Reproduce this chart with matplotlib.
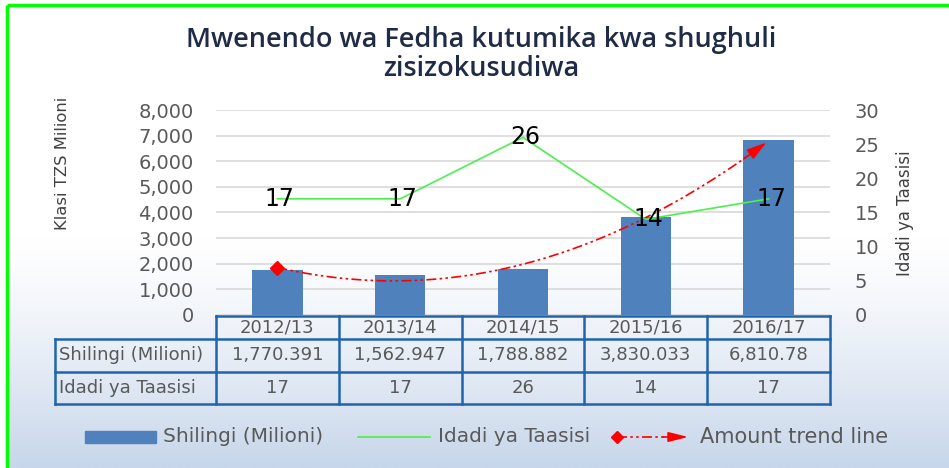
import numpy as np
import matplotlib
matplotlib.use("Agg")
import matplotlib.pyplot as plt
from matplotlib.patches import Rectangle
from matplotlib.lines import Line2D

plt.rcParams['font.family'] = ['DejaVu Sans']

# data
years = ["2012/13", "2013/14", "2014/15", "2015/16", "2016/17"]
shilingi = [1770.391, 1562.947, 1788.882, 3830.033, 6810.78]
taasisi = [17, 17, 26, 14, 17]
row_names = ["Shilingi (Milioni)", "Idadi ya Taasisi"]
left_ticks = [0, 1000, 2000, 3000, 4000, 5000, 6000, 7000, 8000]
right_ticks = [0, 5, 10, 15, 20, 25, 30]

W, H = 949, 468
fig = plt.figure(figsize=(W / 100, H / 100), dpi=100)
fig.patch.set_facecolor("white")

def fx(px):
    return px / W

def fy(py):
    return 1 - py / H

# background gradient
bg = fig.add_axes([fx(7), 0, 1 - fx(7), fy(5)], zorder=-10)
grad = np.linspace(0, 1, 256)
grad = np.clip((grad - 0.5) / 0.5, 0, 1) ** 1.3
top = np.array([1.0, 1.0, 1.0])
bot = np.array([0xc7, 0xd6, 0xea]) / 255
img = top[None, :] * (1 - grad[:, None]) + bot[None, :] * grad[:, None]
bg.imshow(img[:, None, :], aspect="auto", extent=[0, 1, 0, 1], origin="upper")
bg.axis("off")

# green frame (left and top)
fig.add_artist(Line2D([fx(7), fx(7)], [0, fy(5)], color="#00ff00", lw=2.5,
                      solid_capstyle="butt"))
fig.add_artist(Line2D([fx(7), 1], [fy(5), fy(5)], color="#00ff00", lw=2.5,
                      solid_capstyle="butt"))

x0, x1 = 216, 830
yb, yt = 315, 110
ax = fig.add_axes([fx(x0), fy(yb), fx(x1) - fx(x0), fy(yt) - fy(yb)])
ax.patch.set_alpha(0)
x = np.arange(len(years))
ax.bar(x, shilingi, width=0.41, color="#4f81bd", zorder=2)
ax.set_xlim(-0.5, len(years) - 0.5)
ax.set_ylim(0, 8000)
ax.set_yticks(left_ticks)
ax.set_yticklabels([f"{t:,}" for t in left_ticks])
ax.yaxis.grid(True, color="#d9d9d9", lw=1.2)
ax.set_axisbelow(True)
ax.set_xticks([])
for s in ax.spines.values():
    s.set_visible(False)
ax.tick_params(axis="y", length=0, labelsize=14, labelcolor="#595959", pad=16)

# polynomial trend line of amounts
coef = np.polyfit(x, shilingi, 2)
xs = np.linspace(0, len(years) - 1, 200)
ys = np.polyval(coef, xs)
ax.plot(xs[:-8], ys[:-8], color="red", lw=1.2, dashes=[6, 2, 1.5, 2, 1.5, 2], zorder=4)
ax.plot(xs[0], ys[0], marker="D", color="red", ms=7, zorder=5)
ax.annotate("", xy=(xs[-1], ys[-1]), xytext=(xs[-12], ys[-12]),
            arrowprops=dict(arrowstyle="-|>,head_length=1.2,head_width=0.35",
                            color="red", lw=1.2), zorder=5)

ax2 = ax.twinx()
ax2.set_ylim(0, 30)
ax2.set_yticks(right_ticks)
for s in ax2.spines.values():
    s.set_visible(False)
ax2.tick_params(axis="y", length=0, labelsize=14, labelcolor="#595959", pad=18)
ax2.plot(x, taasisi, color="#4cf04c", lw=1.2, zorder=3)
for xi, v in zip(x, taasisi):
    ax2.text(xi + 0.02, v, str(v), fontsize=17, ha="center", va="center", color="black")

# axis titles
fig.text(fx(63), fy(163), "Klasi TZS Milioni", rotation=90, ha="center", va="center",
         fontsize=11.8, color="#404040", family=["Liberation Sans Narrow", "DejaVu Sans"])
fig.text(fx(905), fy(213), "Idadi ya Taasisi", rotation=90, ha="center", va="center",
         fontsize=12, color="#404040", family=["Liberation Sans Narrow", "DejaVu Sans"])

# title
fig.text(0.507, fy(40), "Mwenendo wa Fedha kutumika kwa shughuli", ha="center", va="center",
         fontsize=19.5, color="#1f2b47", fontweight="semibold", family=["Open Sans"])
fig.text(0.507, fy(69), "zisizokusudiwa", ha="center", va="center",
         fontsize=19.5, color="#1f2b47", fontweight="semibold", family=["Open Sans"])

# data table
tb = fig.add_axes([fx(55), fy(404), fx(x1) - fx(55), fy(316) - fy(404)])
tb.set_xlim(-0.5 - (x0 - 55) / ((x1 - x0) / len(years)), len(years) - 0.5)
tb.set_ylim(3, 0)
tb.axis("off")
lab_left = tb.get_xlim()[0]
bc = "#1f64ad"
lw = 1.8
row_h = [0, 0.78, 1.9, 3.0]
tb.plot([-0.5, len(years) - 0.5], [row_h[0]] * 2, color=bc, lw=lw, clip_on=False)
for yy in row_h[1:]:
    tb.plot([lab_left, len(years) - 0.5], [yy] * 2, color=bc, lw=lw, clip_on=False)
for i in range(len(years) + 1):
    tb.plot([i - 0.5] * 2, [row_h[0], row_h[3]], color=bc, lw=lw, clip_on=False)
tb.plot([lab_left] * 2, [row_h[1], row_h[3]], color=bc, lw=lw, clip_on=False)
tc = "#595959"
fs = 13
for i, yr in enumerate(years):
    tb.text(i, (row_h[0] + row_h[1]) / 2, yr, ha="center", va="center", fontsize=fs, color=tc)
    tb.text(i, (row_h[1] + row_h[2]) / 2, f"{shilingi[i]:,}", ha="center", va="center",
            fontsize=fs, color=tc)
    tb.text(i, (row_h[2] + row_h[3]) / 2, str(taasisi[i]), ha="center", va="center",
            fontsize=fs, color=tc)
for k, name in enumerate(row_names):
    tb.text(lab_left + 0.03, (row_h[k + 1] + row_h[k + 2]) / 2, name, ha="left", va="center",
            fontsize=13, color=tc)

# legend
lg = fig.add_axes([0, 0, 1, 1], zorder=5)
lg.set_xlim(0, W)
lg.set_ylim(H, 0)
lg.axis("off")
ly = 437
lg.add_patch(Rectangle((85, ly - 6), 71, 12, color="#4f81bd"))
lg.text(163, ly, "Shilingi (Milioni)", va="center", fontsize=14.5, color=tc)
lg.plot([358, 430], [ly, ly], color="#4cf04c", lw=1.2)
lg.text(438, ly, "Idadi ya Taasisi", va="center", fontsize=14.5, color=tc)
lg.plot([617, 675], [ly, ly], color="red", lw=1.2, dashes=[6, 2, 1.5, 2, 1.5, 2])
lg.plot(617, ly, marker="D", color="red", ms=6)
lg.annotate("", xy=(691, ly), xytext=(660, ly),
            arrowprops=dict(arrowstyle="-|>,head_length=1.2,head_width=0.3", color="red", lw=1.2))
lg.text(700, ly, "Amount trend line", va="center", fontsize=15, color=tc)

fig.savefig("out.png", dpi=100)
